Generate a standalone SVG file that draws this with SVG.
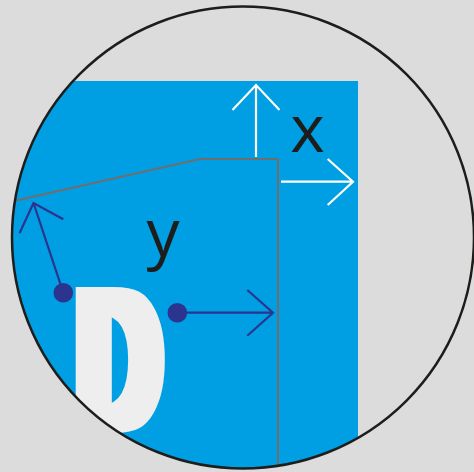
<svg xmlns="http://www.w3.org/2000/svg" width="474" height="472" viewBox="0 0 474 472">
<style>
.wa{fill:none;stroke:#ffffff;stroke-width:2.2}
.na{fill:none;stroke:#2b3590;stroke-width:2.2}
.dot{fill:#2b3590}
.lbl{font-family:"Open Sans","Liberation Sans",sans-serif;font-size:66px;fill:#1d1d1b;text-anchor:middle}
</style>
<defs>
<clipPath id="cc"><circle cx="243" cy="237.5" r="231"/></clipPath>
<filter id="thick" x="-30%" y="-10%" width="160%" height="120%">
<feMorphology operator="dilate" radius="8.4 0"/>
</filter>
</defs>
<rect width="474" height="472" fill="#dcdcdc"/>
<g id="panel" clip-path="url(#cc)">
<rect x="0" y="81" width="358" height="400" fill="#009fe3"/>
<g id="letter" filter="url(#thick)">
<text transform="translate(74,433) scale(0.535,1)" x="0" y="0" font-family="DejaVu Sans" font-weight="bold" font-size="199" fill="#eeeeee">D</text>
</g>
<path id="edge" d="M14,201 L200,159 L278,159 L278,472" fill="none" stroke="#6e6e6e" stroke-width="2"/>
</g>
<circle id="frame" cx="243" cy="237.5" r="231" fill="none" stroke="#1d1d1b" stroke-width="2.5"/>
<g id="connectors">
<path class="wa" d="M256,157 L256,85 M232.5,110 L256,85 L279.5,110"/>
<path class="wa" d="M281,181.7 L353,181.7 M327.7,159 L353,181.7 L327.7,205"/>
<path class="na" d="M63.3,292.7 L33.5,203 M19.5,233.3 L33.5,203 L63.3,219.3"/>
<path class="na" d="M177.3,312.7 L273,312.7 M247.3,290 L273,312.7 L247.3,335.7"/>
</g>
<g id="dot1"><circle class="dot" cx="63.3" cy="292.7" r="9.8"/></g>
<g id="dot2"><circle class="dot" cx="177.3" cy="312.7" r="9.8"/></g>
<g id="label-x"><text class="lbl" x="307.5" y="152">x</text></g>
<g id="label-y"><text class="lbl" x="163" y="256">y</text></g>
</svg>
